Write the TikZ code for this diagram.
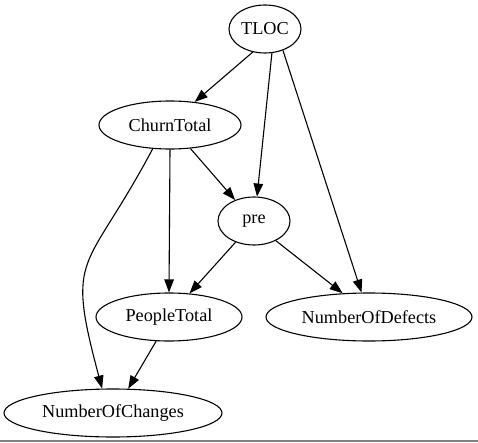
\documentclass[tikz,border=0pt]{standalone}
\usepackage{fontspec}
\setmainfont{Liberation Serif}
\usetikzlibrary{shapes.geometric,arrows.meta,positioning,calc}

\begin{document}
\begin{tikzpicture}[x=1bp, y=-1bp,
			var/.style={draw=black, line width=1.1pt, ellipse, inner sep=0pt,
				minimum height=48bp, font=\fontsize{18.3}{20}\selectfont},
			line/.style={draw, line width=1.1pt, -{Triangle[length=13bp, width=9.5bp]}}]
			\useasboundingbox (0,0) rectangle (478,443);
			
			% Variables
			\node[var, minimum width=72bp] (TLOC) at (265,29) {TLOC};
			\node[var, minimum width=142bp] (CT) at (170,125) {ChurnTotal};
			\node[var, minimum width=72bp] (pre) at (254,221) {pre};
			\node[var, minimum width=146bp] (PT) at (169,317) {PeopleTotal};
			\node[var, minimum width=206bp] (NoD) at (369,317) {NumberOfDefects};
			\node[var, minimum width=218bp] (NoC) at (113,413) {NumberOfChanges};
			
			% Edges from TLOC
			\path[line] (TLOC.-118) -- (CT.43);
			\path[line] (TLOC.-74) -- (pre.83);
			\path[line] (TLOC.-50) -- (NoD.107);
			
			% Edges from ChurnTotal
			\path[line] (CT.-126) to[out=-118, in=105, looseness=1.5] (NoC.114);
			\path[line] (CT.-90) -- (PT.90);
			\path[line] (CT.-49) -- (pre.132);
			
			% Edges from pre
			\path[line] (pre.-131) -- (PT.49);
			\path[line] (pre.-42) -- (NoD.138);
			
			% Edges from PeopleTotal
			\path[line] (PT.-118) -- (NoC.58);
			
			% Bottom rule
			\draw[gray, line width=1.2pt] (0,441) -- (478,441);
		\end{tikzpicture}
\end{document}
